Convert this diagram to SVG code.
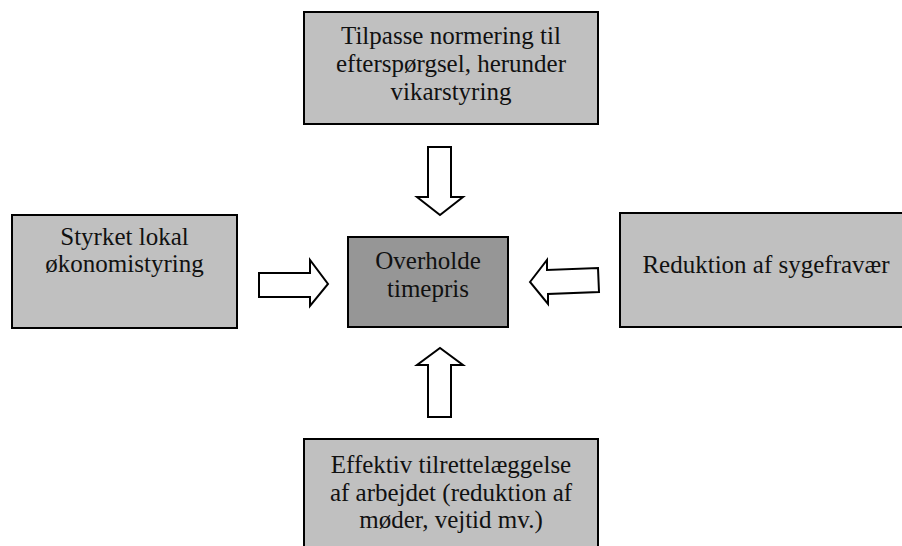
<svg xmlns="http://www.w3.org/2000/svg" width="902" height="546" viewBox="0 0 902 546">
<style>
.box{fill:#c0c0c0;stroke:#000;stroke-width:2}
.core{fill:#969696;stroke:#000;stroke-width:2}
.arr{fill:#fff;stroke:#000;stroke-width:2;stroke-linejoin:miter}
text{font-family:"Liberation Serif","Times New Roman",serif;font-size:25px;fill:#111;text-anchor:middle}
</style>
<rect width="902" height="546" fill="#fff"/>
<g id="top">
<rect class="box" x="304" y="12" width="294" height="112"/>
<text x="451" y="44">Tilpasse normering til</text>
<text x="451" y="72">efterspørgsel, herunder</text>
<text x="451" y="100">vikarstyring</text>
</g>
<g id="left">
<rect class="box" x="12" y="215" width="225" height="113"/>
<text x="124.5" y="245">Styrket lokal</text>
<text x="124.5" y="272">økonomistyring</text>
</g>
<g id="center">
<rect class="core" x="348" y="237" width="160" height="90"/>
<text x="428" y="269">Overholde</text>
<text x="428" y="297">timepris</text>
</g>
<g id="right">
<rect class="box" x="620" y="213" width="292" height="114"/>
<text x="766" y="273">Reduktion af sygefravær</text>
</g>
<g id="bottom">
<rect class="box" x="304" y="439" width="294" height="120"/>
<text x="451" y="473">Effektiv tilrettelæggelse</text>
<text x="451" y="501">af arbejdet (reduktion af</text>
<text x="451" y="528">møder, vejtid mv.)</text>
</g>
<g id="connectors">
<polygon class="arr" points="428,147 451,147 451,197 463,197 440,215 417,197 428,197"/>
<polygon class="arr" points="428,417 451,417 451,365 463,365 440,348 417,365 428,365"/>
<polygon class="arr" points="259,273 310,273 310,260 328,284 310,306 310,297 259,297"/>
<polygon class="arr" points="530,282 547,260 547,270 598,268 599,292 548,294 548,304"/>
</g>
</svg>
